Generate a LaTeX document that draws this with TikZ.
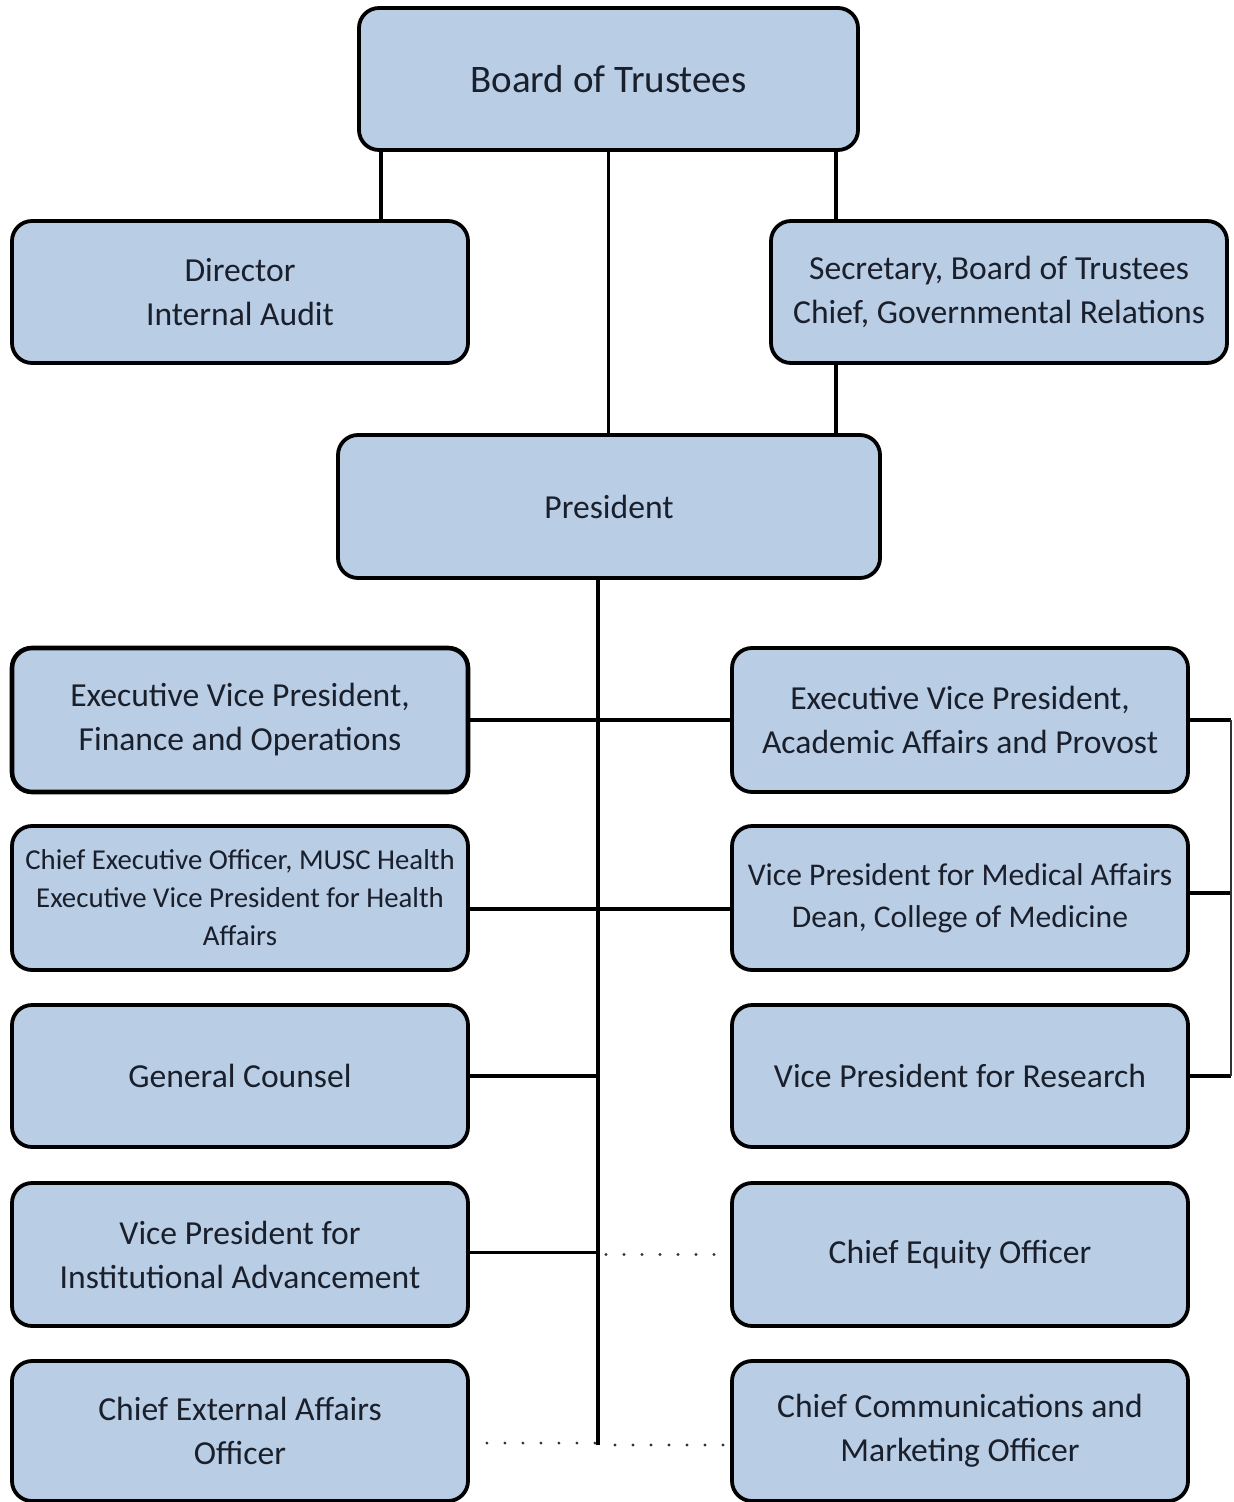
\documentclass[tikz,border=0pt]{standalone}
\usepackage{fontspec}
\setmainfont{Carlito}
\definecolor{boxblue}{HTML}{B9CDE5}
\definecolor{txt}{HTML}{1A1F2C}
\tikzset{
  box/.style={draw=black, line width=1.9pt, fill=boxblue, rounded corners=10pt,
    minimum width=228pt, minimum height=71pt, align=center, text=txt,
    font=\fontsize{16.8}{22}\selectfont, inner sep=0pt},
  conn/.style={line width=1.6pt, draw=black},
  thinconn/.style={line width=1.1pt, draw=black!80},
  dots/.style={line width=1.6pt, line cap=round, dash pattern=on 0pt off 9pt, draw=black!80}
}
\begin{document}
\begin{tikzpicture}[x=0.5pt, y=-0.5pt]
\useasboundingbox (0,0) rectangle (1233,1502);
% boxes
\node[box, minimum width=249.5pt, font=\fontsize{19.5}{24}\selectfont] (board) at (608.5,79) {Board of Trustees};
\node[box] (audit) at (240,292) {Director\\Internal Audit};
\node[box] (sec) at (999,292) {Secretary, Board of Trustees\\Chief, Governmental Relations};
\node[box, minimum width=271pt, minimum height=71.5pt] (pres) at (609,506.5) {President};
\node[box, minimum height=72pt, line width=2.3pt] (evpf) at (240,720) {Executive Vice President,\\Finance and Operations};
\node[box, minimum height=72pt] (evpa) at (960,720) {Executive Vice President,\\Academic Affairs and Provost};
\node[box, minimum height=72pt, font=\fontsize{14.4}{19}\selectfont] (ceo) at (240,898) {Chief Executive Officer, MUSC Health\\Executive Vice President for Health\\Affairs};
\node[box, minimum height=72pt, font=\fontsize{15.8}{21}\selectfont] (vpm) at (960,898) {Vice President for Medical Affairs\\Dean, College of Medicine};
\node[box] (gc) at (240,1076) {General Counsel};
\node[box] (vpr) at (960,1076) {Vice President for Research};
\node[box, minimum height=71.5pt] (vpia) at (240,1254.5) {Vice President for\\Institutional Advancement};
\node[box, minimum height=71.5pt] (ceqo) at (960,1254.5) {Chief Equity Officer};
\node[box, minimum height=70pt] (cea) at (240,1431) {Chief External Affairs\\Officer};
\node[box, minimum height=70pt] (ccmo) at (960,1431) {Chief Communications and\\Marketing Officer};
% helper coordinates
\coordinate (ax) at (381,0);
\coordinate (sx) at (836,0);
\coordinate (tk) at (598,0);
\coordinate (tkend) at (598,1445);
\coordinate (bx) at (1231,0);
% top connectors
\draw[conn] (board.south -| ax) -- (audit.north -| ax);
\draw[conn] (board.south -| sx) -- (sec.north -| sx);
\draw[conn] (sec.south -| sx) -- (pres.north -| sx);
\draw[conn] (board.south) -- (board.south |- pres.north);
% trunk
\draw[conn] (pres.south -| tk) -- (tkend);
% horizontal connectors
\draw[conn] (evpf.east) -- (evpa.west);
\draw[conn] ([yshift=-5.5pt]ceo.east) -- ([yshift=-5.5pt]ceo.east -| vpm.west);
\draw[conn] (gc.east) -- (gc.east -| tk);
\draw[conn] ([yshift=1pt]vpia.east) -- ([yshift=1pt]vpia.east -| tk);
% dotted connectors
\draw[dots] ([xshift=4pt]ceqo.west -| tk) -- ([xshift=-7.5pt]ceqo.west);
\draw[dots] ([xshift=8.5pt,yshift=1pt]cea.east |- tkend) -- ([xshift=-1pt,yshift=1pt]tkend);
\draw[dots] ([xshift=8.5pt]tkend) -- ([xshift=-3.5pt]ccmo.west |- tkend);
% right bracket
\draw[conn] (evpa.east) -- (evpa.east -| bx);
\draw[conn] ([yshift=2.5pt]vpm.east) -- ([yshift=2.5pt]vpm.east -| bx);
\draw[conn] (vpr.east) -- (vpr.east -| bx);
\draw[thinconn] (evpa.east -| bx) -- (vpr.east -| bx);
\end{tikzpicture}
\end{document}
